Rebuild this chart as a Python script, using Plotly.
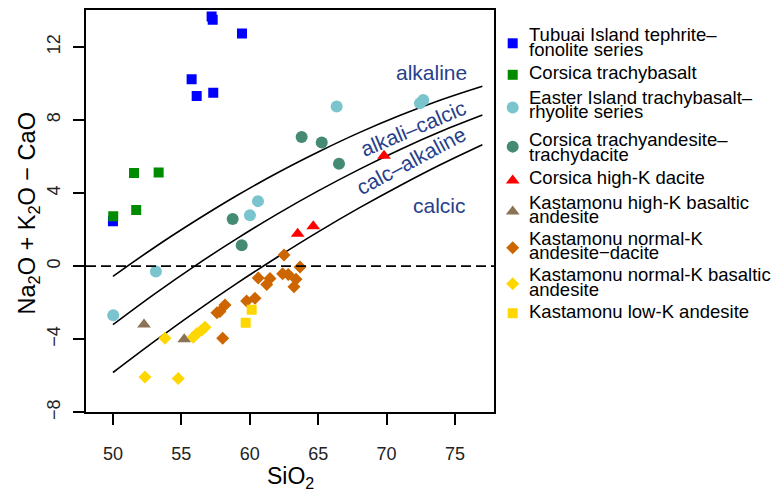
import plotly.graph_objects as go

# ---------------- data ----------------
tubuai_x = [57.21, 57.29, 59.43, 55.75, 56.12, 57.33, 50.0]
tubuai_y = [13.67, 13.49, 12.74, 10.23, 9.31, 9.49, 2.46]

cors_tb_x = [51.54, 53.34, 51.70, 50.02]
cors_tb_y = [5.10, 5.13, 3.07, 2.73]

easter_x = [60.60, 60.01, 53.14, 50.02, 66.35, 72.44, 72.68]
easter_y = [3.56, 2.79, -0.29, -2.69, 8.74, 8.92, 9.10]

cors_ta_x = [63.79, 65.26, 66.52, 58.75, 59.41]
cors_ta_y = [7.07, 6.77, 5.60, 2.58, 1.15]

cors_dac_x = [69.81, 63.50, 64.64]
cors_dac_y = [6.05, 1.78, 2.19]

kast_hk_x = [52.27, 55.21]
kast_hk_y = [-3.19, -4.00]

kast_nk_ad_x = [62.50, 60.62, 61.48, 61.24, 62.40, 62.81, 63.38, 63.23, 63.67,
                59.77, 60.38, 58.19, 57.82, 58.02, 57.60]
kast_nk_ad_y = [0.61, -0.65, -0.68, -1.00, -0.41, -0.46, -0.72, -1.13, -0.05,
                -1.90, -1.75, -2.12, -2.48, -3.95, -2.55]

kast_nk_ba_x = [53.80, 55.87, 56.14, 56.48, 56.73, 52.34, 54.77]
kast_nk_ba_y = [-3.95, -3.89, -3.68, -3.51, -3.34, -6.06, -6.15]

kast_lk_x = [60.14, 59.70]
kast_lk_y = [-2.38, -3.10]

# boundary curves
curve_x = [50, 53, 56, 59, 62, 65, 68, 71, 74, 77]
alk_alkcalc_y = [-0.56, 1.01, 2.47, 3.84, 5.10, 6.25, 7.31, 8.26, 9.11, 9.85]
alkcalc_calcalk_y = [-3.20, -1.54, 0.02, 1.48, 2.85, 4.12, 5.30, 6.39, 7.38, 8.27]
calcalk_calc_y = [-5.82, -4.13, -2.51, -0.97, 0.49, 1.88, 3.19, 4.42, 5.58, 6.65]

x_ticks = [50, 55, 60, 65, 70, 75]
y_ticks = [-8, -4, 0, 4, 8, 12]

series_names = [
    "Tubuai Island tephrite–\nfonolite series",
    "Corsica trachybasalt",
    "Easter Island trachybasalt–\nrhyolite series",
    "Corsica trachyandesite–\ntrachydacite",
    "Corsica high-K dacite",
    "Kastamonu high-K basaltic\nandesite",
    "Kastamonu normal-K\nandesite−dacite",
    "Kastamonu normal-K basaltic\nandesite",
    "Kastamonu low-K andesite",
]

# ---------------- styles ----------------
FONT = "Liberation Sans, Arial, Helvetica, sans-serif"
W, H = 775, 503
series = [
    (tubuai_x, tubuai_y, "square", "#0000FF", 10),
    (cors_tb_x, cors_tb_y, "square", "#008B00", 10),
    (easter_x, easter_y, "circle", "#7AC5CD", 12),
    (cors_ta_x, cors_ta_y, "circle", "#458B74", 12),
    (cors_dac_x, cors_dac_y, "triangle-up", "#FF0000", 12),
    (kast_hk_x, kast_hk_y, "triangle-up", "#8B7355", 12),
    (kast_nk_ad_x, kast_nk_ad_y, "diamond", "#CD6600", 10),
    (kast_nk_ba_x, kast_nk_ba_y, "diamond", "#FFD700", 10),
    (kast_lk_x, kast_lk_y, "square", "#FFD700", 10),
]

fig = go.Figure()

for cy in (alk_alkcalc_y, alkcalc_calcalk_y, calcalk_calc_y):
    fig.add_trace(go.Scatter(x=curve_x, y=cy, mode="lines", line=dict(color="black", width=1.6, shape="spline"),
                             showlegend=False, hoverinfo="skip"))

for (sx, sy, sym, col, sz), name in zip(series, series_names):
    fig.add_trace(go.Scatter(x=sx, y=sy, mode="markers", name=name.replace("\n", " "),
                             marker=dict(symbol=sym, color=col, size=sz, line=dict(width=0)),
                             showlegend=False))

# manual legend (pixel-space overlay axis)
legend_marker_y = [44, 76, 109.3, 149, 183.3, 215, 251.7, 288.3, 318.3]
legend_line_baselines = [[41.7, 56.7], [80], [105, 120], [148.3, 163], [186.7],
                         [211.7, 226.7], [248.3, 263.3], [285, 300], [323.3]]
LEG_FS = 18.5
for (sx, sy, sym, col, sz), my in zip(series, legend_marker_y):
    fig.add_trace(go.Scatter(x=[512.7], y=[my], xaxis="x2", yaxis="y2", mode="markers",
                             marker=dict(symbol=sym, color=col, size=sz, line=dict(width=0)),
                             showlegend=False, hoverinfo="skip"))

annotations = []
for name, bases in zip(series_names, legend_line_baselines):
    for line, b in zip(name.split("\n"), bases):
        annotations.append(dict(x=527, y=b - 6.3, xref="x2", yref="y2", text=line, showarrow=False,
                                xanchor="left", yanchor="middle", font=dict(family=FONT, size=LEG_FS, color="black")))

LAB = "#27408B"
for txt, lx, ly, ang in [("alkaline", 73.25, 10.6, 0), ("alkali–calcic", 71.9, 7.55, -23),
                         ("calc–alkaline", 71.8, 5.78, -28), ("calcic", 73.87, 3.3, 0)]:
    annotations.append(dict(x=lx, y=ly, xref="x", yref="y", text=txt, showarrow=False, textangle=ang,
                            xanchor="center", yanchor="middle", font=dict(family=FONT, size=21, color=LAB)))

# axis titles
annotations.append(dict(x=290 / W, y=1 - 485 / H, xref="paper", yref="paper", text="SiO<sub>2</sub>",
                        showarrow=False, xanchor="center", yanchor="middle", font=dict(family=FONT, size=23, color="black")))
annotations.append(dict(x=29 / W, y=1 - 217 / H, xref="paper", yref="paper",
                        text="Na<sub>2</sub>O + K<sub>2</sub>O − CaO", textangle=-90,
                        showarrow=False, xanchor="center", yanchor="middle", font=dict(family=FONT, size=23.5, color="black")))

fig.add_shape(type="line", xref="x domain", yref="y", x0=0, x1=1, y0=0, y1=0,
              line=dict(color="black", width=1.6, dash="10px,5px"))

axis_common = dict(showgrid=False, zeroline=False, showline=True, mirror=True, linecolor="black", linewidth=1.5,
                   ticks="outside", ticklen=11, tickwidth=1.5, tickcolor="black",
                   tickfont=dict(family=FONT, size=18, color="#222222"))

fig.update_layout(
    width=W, height=H, margin=dict(l=0, r=0, t=0, b=0),
    paper_bgcolor="white", plot_bgcolor="white", showlegend=False,
    xaxis=dict(domain=[86 / W, 494 / W], range=[48.03, 77.85], tickvals=x_ticks, ticklabelstandoff=13,
               **axis_common),
    yaxis=dict(domain=[1 - 419 / H, 1 - 10 / H], range=[-8.0, 14.03], tickvals=y_ticks, tickangle=-90,
               ticklabelstandoff=6, **axis_common),
    xaxis2=dict(domain=[500 / W, 1], range=[500, W], visible=False, anchor="y2"),
    yaxis2=dict(domain=[0, 1], range=[H, 0], visible=False, anchor="x2"),
    annotations=annotations,
)

fig.write_html("out.html")
